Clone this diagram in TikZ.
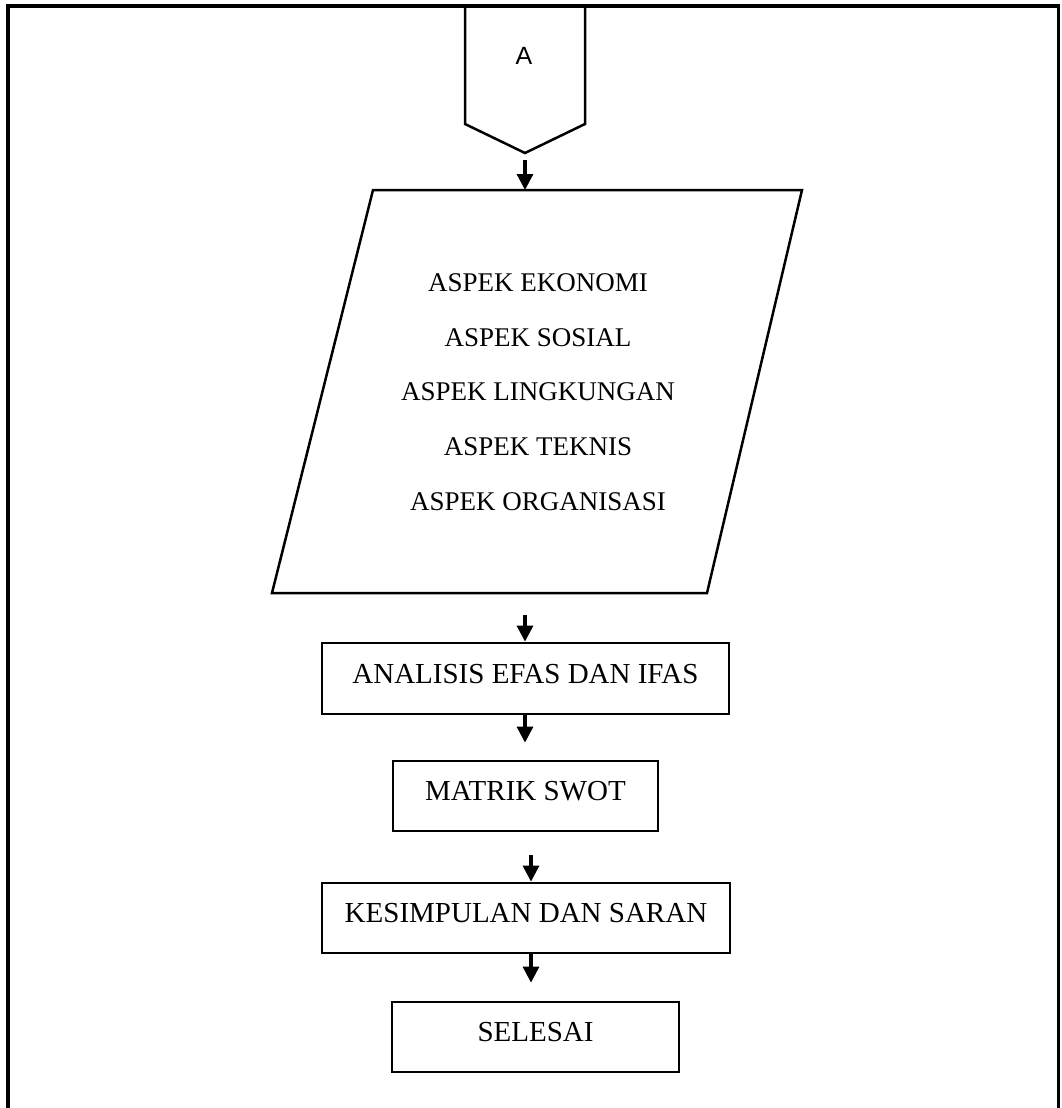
\documentclass[tikz,border=0pt]{standalone}
\usepackage{fontspec}
\setmainfont{Liberation Serif}
\newfontfamily\arialfont{Liberation Sans}
\usetikzlibrary{arrows.meta}
\tikzset{
  frameline/.style={line width=3.6pt},
  shapeline/.style={line width=2.5pt, line join=miter},
  flowbox/.style={draw, line width=2.8pt, inner sep=0pt, text depth=10pt,
     font=\fontsize{29}{33}\selectfont},
  arr/.style={line width=3.2pt, -{Triangle[length=16pt,width=16pt]}},
}
\begin{document}
\begin{tikzpicture}[x=1pt,y=-1pt]
\useasboundingbox (0,0) rectangle (1061,1108);
% outer frame (open at bottom)
\draw[frameline] (8,1108) -- (8,6) -- (1058.5,6) -- (1058.5,1108);
% off-page connector A
\draw[shapeline] (465,6) -- (465,124) -- (525,153) -- (585,124) -- (585,6) -- cycle;
\node (lblA) at (524,56) {\arialfont\fontsize{25}{28}\selectfont A};
\coordinate (pA) at (525,153);
% parallelogram
\draw[shapeline] (373,190) -- (802,190) -- (707,593) -- (272,593) -- cycle;
\coordinate (parTop) at (525,190);
\coordinate (parBot) at (525,593);
\node[align=center, font=\fontsize{27}{54.75}\selectfont] (aspek) at (538,392)
  {ASPEK EKONOMI\\ASPEK SOSIAL\\ASPEK LINGKUNGAN\\ASPEK TEKNIS\\ASPEK ORGANISASI};
% boxes
\node[flowbox, minimum width=407pt, minimum height=71pt] (ana) at (525.5,678.5) {ANALISIS EFAS DAN IFAS};
\node[flowbox, minimum width=265pt, minimum height=70pt] (mat) at (525.5,796) {MATRIK SWOT};
\node[flowbox, minimum width=408pt, minimum height=70pt] (kes) at (526,918) {KESIMPULAN DAN SARAN};
\node[flowbox, minimum width=287pt, minimum height=70pt] (sel) at (535.5,1037) {SELESAI};
% arrows
\draw[arr, shorten <=7pt] (pA) -- (parTop);
\draw[arr, shorten <=22pt] (parBot) -- (parBot |- ana.north);
\draw[arr, shorten >=17pt] ([xshift=-0.5pt]ana.south) -- ([xshift=-0.5pt]mat.north);
\draw[arr, shorten <=23pt] ([xshift=5.5pt]mat.south) -- ([xshift=5pt]kes.north);
\draw[arr, shorten >=18pt] ([xshift=5pt]kes.south) -- ([xshift=-4.5pt]sel.north);
\end{tikzpicture}
\end{document}
